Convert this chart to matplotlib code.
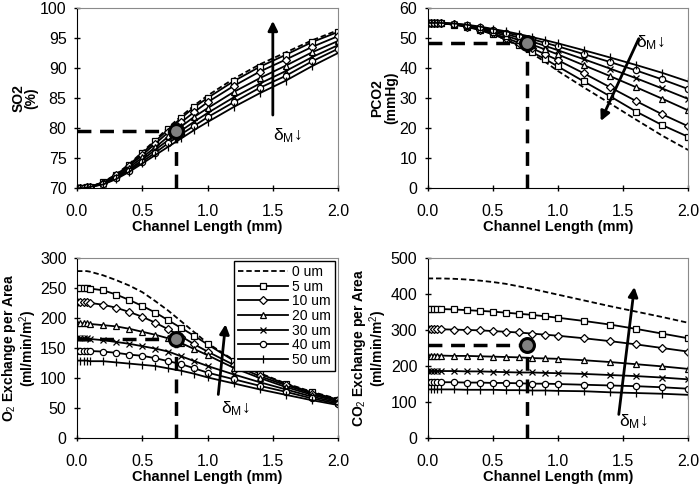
import numpy as np
import matplotlib
matplotlib.use("Agg")
import matplotlib.pyplot as plt

plt.rcParams['font.family'] = ['Liberation Sans', 'DejaVu Sans']
plt.rcParams['mathtext.fontset'] = 'custom'
plt.rcParams['mathtext.rm'] = 'Liberation Sans'
plt.rcParams['mathtext.it'] = 'Liberation Sans:italic'
plt.rcParams['mathtext.bf'] = 'Liberation Sans:bold'

# channel length positions (mm)
x = [0, 0.025, 0.05, 0.075, 0.1, 0.2, 0.3, 0.4, 0.5, 0.6, 0.7, 0.8, 0.9, 1.0,
     1.2, 1.4, 1.6, 1.8, 2.0]

labels = ['0 um', '5 um', '10 um', '20 um', '30 um', '40 um', '50 um']

# SO2 (%)
so2_0 = [70.0, 70.0, 70.0, 70.1, 70.2, 71.0, 72.3, 74.0, 76.0, 78.0, 80.1, 82.0, 83.8, 85.4, 88.2, 90.6, 92.6, 94.6, 96.3]
so2_5 = [70.0, 70.0, 70.0, 70.1, 70.2, 71.0, 72.2, 73.9, 75.8, 77.8, 79.8, 81.7, 83.5, 85.0, 87.8, 90.2, 92.2, 94.3, 96.0]
so2_10 = [70.0, 70.0, 70.0, 70.1, 70.2, 70.9, 72.1, 73.7, 75.5, 77.4, 79.3, 81.0, 82.7, 84.3, 87.0, 89.4, 91.4, 93.5, 95.3]
so2_20 = [70.0, 70.0, 70.0, 70.1, 70.2, 70.8, 71.9, 73.4, 75.1, 76.8, 78.6, 80.3, 81.9, 83.3, 86.0, 88.3, 90.4, 92.6, 94.5]
so2_30 = [70.0, 70.0, 70.0, 70.1, 70.2, 70.7, 71.8, 73.1, 74.7, 76.4, 78.0, 79.6, 81.1, 82.5, 85.1, 87.4, 89.5, 91.8, 93.8]
so2_40 = [70.0, 70.0, 70.0, 70.1, 70.2, 70.7, 71.6, 72.9, 74.4, 75.9, 77.5, 79.0, 80.4, 81.8, 84.3, 86.7, 88.7, 91.1, 93.2]
so2_50 = [70.0, 70.0, 70.0, 70.1, 70.2, 70.6, 71.5, 72.7, 74.1, 75.5, 76.9, 78.3, 79.7, 81.0, 83.5, 85.8, 87.9, 90.3, 92.5]

# PCO2 (mmHg)
pco2_0 = [55.0, 55.0, 55.0, 55.0, 54.9, 54.6, 53.9, 52.8, 51.3, 49.4, 47.2, 44.8, 42.1, 39.0, 33.5, 28.2, 22.8, 17.5, 12.7]
pco2_5 = [55.0, 55.0, 55.0, 55.0, 54.9, 54.4, 53.7, 52.6, 51.2, 49.5, 47.5, 45.3, 43.0, 40.5, 35.5, 30.6, 25.5, 21.0, 17.1]
pco2_10 = [55.0, 55.0, 55.0, 55.0, 54.9, 54.5, 53.8, 52.8, 51.5, 50.0, 48.4, 46.6, 44.6, 42.6, 38.2, 33.6, 29.0, 24.6, 20.6]
pco2_20 = [55.0, 55.0, 55.0, 55.0, 54.9, 54.6, 54.0, 53.1, 52.0, 50.7, 49.3, 47.8, 46.2, 44.5, 40.9, 37.3, 33.6, 29.8, 25.9]
pco2_30 = [55.0, 55.0, 55.0, 55.0, 55.0, 54.7, 54.2, 53.4, 52.4, 51.3, 50.1, 48.8, 47.4, 45.9, 42.9, 39.8, 36.6, 33.2, 29.7]
pco2_40 = [55.0, 55.0, 55.0, 55.0, 55.0, 54.7, 54.3, 53.6, 52.8, 51.8, 50.8, 49.6, 48.4, 47.2, 44.6, 42.0, 39.2, 36.2, 33.0]
pco2_50 = [55.0, 55.0, 55.0, 55.0, 55.0, 54.8, 54.4, 53.8, 53.0, 52.2, 51.3, 50.3, 49.3, 48.2, 45.9, 43.5, 41.0, 38.4, 35.5]

# O2 exchange per area (ml/min/m2)
o2_0 = [278, 278, 278, 278, 277, 271, 263, 254, 243, 228, 212, 194, 176, 158, 130, 108, 91, 77, 65]
o2_5 = [250, 250, 250, 250, 249, 246, 239, 230, 220, 209, 196, 183, 170, 156, 129, 107, 90, 76, 64]
o2_10 = [226, 226, 226, 226, 225, 222, 217, 210, 202, 192, 181, 169, 156, 144, 122, 103, 88, 74, 63]
o2_20 = [191, 191, 191, 191, 190, 188, 186, 182, 177, 172, 166, 158, 148, 138, 117, 100, 85, 72, 61]
o2_30 = [166, 166, 166, 166, 165, 163, 160, 157, 153, 149, 144, 136, 128, 120, 106, 93, 81, 69, 59]
o2_40 = [145, 145, 145, 145, 145, 144, 142, 139, 137, 133, 128, 123, 116, 109, 98, 87, 77, 66, 57]
o2_50 = [129, 129, 129, 129, 128, 128, 126, 124, 122, 120, 116, 112, 107, 101, 91, 81, 72, 63, 55]

# CO2 exchange per area (ml/min/m2)
co2_0 = [443, 443, 443, 443, 443, 442, 440, 437, 433, 428, 421, 414, 406, 398, 382, 366, 351, 336, 320]
co2_5 = [358, 358, 358, 358, 358, 357, 355, 353, 351, 348, 345, 342, 338, 334, 325, 315, 303, 290, 277]
co2_10 = [302, 302, 302, 302, 302, 301, 300, 299, 297, 295, 293, 290, 287, 284, 277, 269, 260, 250, 240]
co2_20 = [229, 229, 229, 229, 229, 228, 228, 227, 226, 225, 224, 222, 221, 220, 216, 211, 205, 199, 192]
co2_30 = [186, 186, 186, 186, 186, 186, 185, 185, 184, 183, 182, 182, 181, 180, 178, 175, 172, 168, 163]
co2_40 = [155, 155, 155, 155, 155, 155, 154, 154, 153, 153, 152, 151, 151, 150, 148, 146, 144, 141, 137]
co2_50 = [135, 135, 135, 135, 135, 135, 134, 134, 134, 133, 133, 132, 132, 131, 130, 127, 125, 123, 120]

# design point (x, y) per panel
pt_so2 = (0.76, 79.5)
pt_pco2 = (0.76, 48.3)
pt_o2 = (0.76, 165)
pt_co2 = (0.76, 258)

markers = [None, 's', 'D', '^', 'x', 'o', '|']
msizes = [0, 4.2, 3.8, 4.5, 4.2, 4.5, 6]

fig = plt.figure(figsize=(7, 4.95), dpi=100)

def panel(rect, series, ylim, yticks, ylabel, pt, arrow, lab_xy, legend=False):
    ax = fig.add_axes(rect)
    for i, ys in enumerate(series):
        if i == 0:
            ax.plot(x, ys, color='black', lw=1.3, linestyle=(0, (3, 1.6)), label=labels[i])
        else:
            ax.plot(x, ys, color='black', lw=1.3, marker=markers[i], ms=msizes[i],
                    mfc='white', mec='black', mew=0.9, label=labels[i])
    # dashed guide lines to the design point
    ax.plot([0, pt[0]], [pt[1], pt[1]], color='black', lw=2.5, linestyle=(0, (4, 2.5)))
    ax.plot([pt[0], pt[0]], [ylim[0], pt[1]], color='black', lw=2.5, linestyle=(0, (4, 2.5)))
    ax.plot(pt[0], pt[1], 'o', ms=10, mfc='#808080', mec='black', mew=2.2, zorder=5)
    ax.annotate('', xy=arrow[1], xytext=arrow[0],
                arrowprops=dict(arrowstyle='-|>', color='black', lw=2, mutation_scale=14))
    ax.text(lab_xy[0], lab_xy[1], '\u03b4$_{\\mathrm{M}}$\u2193', fontsize=12.5, va='center')
    ax.set_xlim(0, 2.0)
    ax.set_ylim(*ylim)
    ax.set_xticks([0, 0.5, 1.0, 1.5, 2.0])
    ax.set_xticklabels(['0.0', '0.5', '1.0', '1.5', '2.0'])
    ax.set_yticks(yticks)
    ax.tick_params(direction='inout', length=5, width=1, labelsize=11.5)
    ax.tick_params(axis='x', pad=9)
    ax.tick_params(axis='y', pad=5)
    for s in ['top', 'right']:
        ax.spines[s].set_color('#8a8a8a')
    ax.set_xlabel('Channel Length (mm)', fontsize=10.5, fontweight='bold', labelpad=1)
    ax.set_ylabel(ylabel, fontsize=10, fontweight='bold', labelpad=1, linespacing=0.95)
    if legend:
        ax.legend(loc='upper right', fontsize=10, handlelength=3.6, labelspacing=0.05,
                  fancybox=False, edgecolor='black', framealpha=1, borderpad=0.3,
                  handletextpad=0.3, borderaxespad=0.2)
    return ax

panel([0.110, 0.620, 0.373, 0.364],
      [so2_0, so2_5, so2_10, so2_20, so2_30, so2_40, so2_50],
      (70, 100), [70, 75, 80, 85, 90, 95, 100], 'SO2\n(%)', pt_so2,
      ((1.5, 81.7), (1.5, 98.3)), (1.5, 78.7))

panel([0.611, 0.620, 0.372, 0.364],
      [pco2_0, pco2_5, pco2_10, pco2_20, pco2_30, pco2_40, pco2_50],
      (0, 60), [0, 10, 20, 30, 40, 50, 60], 'PCO2\n(mmHg)', pt_pco2,
      ((1.63, 50.6), (1.32, 21.5)), (1.6, 48.5))

panel([0.110, 0.115, 0.373, 0.364],
      [o2_0, o2_5, o2_10, o2_20, o2_30, o2_40, o2_50],
      (0, 300), [0, 50, 100, 150, 200, 250, 300],
      'O$_2$ Exchange per Area\n(ml/min/m$^2$)', pt_o2,
      ((1.08, 68), (1.14, 194)), (1.1, 49), legend=True)

panel([0.611, 0.115, 0.372, 0.364],
      [co2_0, co2_5, co2_10, co2_20, co2_30, co2_40, co2_50],
      (0, 500), [0, 100, 200, 300, 400, 500],
      'CO$_2$ Exchange per Area\n(ml/min/m$^2$)', pt_co2,
      ((1.465, 58), (1.59, 427)), (1.47, 45))

fig.savefig('out.png', dpi=100)
